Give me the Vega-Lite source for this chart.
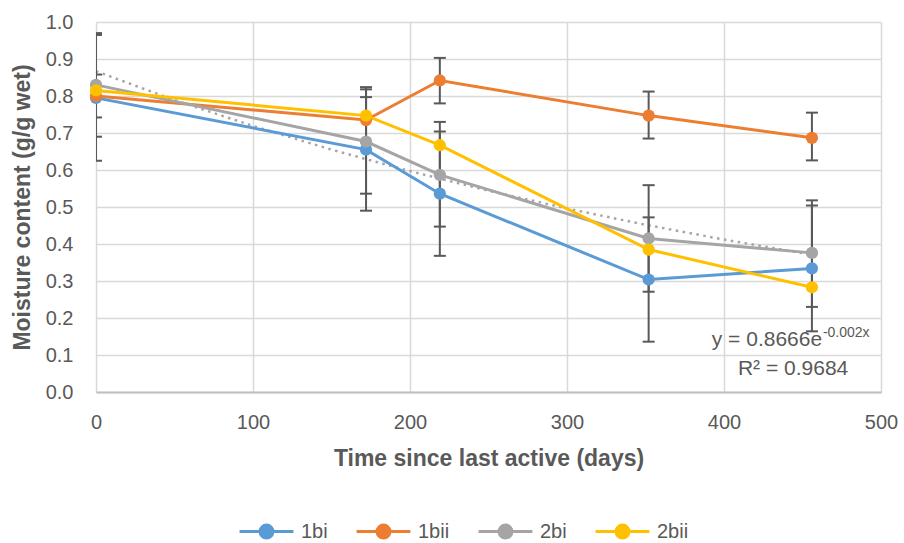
{
  "$schema": "https://vega.github.io/schema/vega-lite/v6.json",
  "width": 785,
  "height": 370,
  "autosize": {"type": "none"},
  "padding": {"left": 96, "top": 22, "right": 23, "bottom": 151},
  "background": "white",
  "config": {
    "font": "Liberation Sans, sans-serif",
    "view": {"stroke": null}
  },
  "datasets": {
    "series": [
      {"series": "1bi", "x": 0, "y": 0.795, "lo": 0.625, "hi": 0.965},
      {"series": "1bi", "x": 172, "y": 0.655, "lo": 0.49, "hi": 0.824},
      {"series": "1bi", "x": 219, "y": 0.536, "lo": 0.368, "hi": 0.704},
      {"series": "1bi", "x": 352, "y": 0.304, "lo": 0.136, "hi": 0.472},
      {"series": "1bi", "x": 456, "y": 0.334, "lo": 0.164, "hi": 0.504},
      {"series": "1bii", "x": 0, "y": 0.8, "lo": 0.742, "hi": 0.858},
      {"series": "1bii", "x": 172, "y": 0.735, "lo": 0.675, "hi": 0.797},
      {"series": "1bii", "x": 219, "y": 0.842, "lo": 0.78, "hi": 0.903},
      {"series": "1bii", "x": 352, "y": 0.747, "lo": 0.685, "hi": 0.812},
      {"series": "1bii", "x": 456, "y": 0.687, "lo": 0.626, "hi": 0.755},
      {"series": "2bi", "x": 0, "y": 0.83, "lo": 0.69, "hi": 0.97},
      {"series": "2bi", "x": 172, "y": 0.677, "lo": 0.536, "hi": 0.818},
      {"series": "2bi", "x": 219, "y": 0.587, "lo": 0.447, "hi": 0.73},
      {"series": "2bi", "x": 352, "y": 0.415, "lo": 0.271, "hi": 0.559},
      {"series": "2bi", "x": 456, "y": 0.376, "lo": 0.23, "hi": 0.518},
      {"series": "2bii", "x": 0, "y": 0.815, "lo": null, "hi": null},
      {"series": "2bii", "x": 172, "y": 0.747, "lo": null, "hi": null},
      {"series": "2bii", "x": 219, "y": 0.667, "lo": null, "hi": null},
      {"series": "2bii", "x": 352, "y": 0.385, "lo": null, "hi": null},
      {"series": "2bii", "x": 456, "y": 0.283, "lo": null, "hi": null}
    ],
    "trend": [
      {"x": 0, "y": 0.867},
      {"x": 50, "y": 0.789},
      {"x": 100, "y": 0.719},
      {"x": 150, "y": 0.655},
      {"x": 200, "y": 0.597},
      {"x": 250, "y": 0.544},
      {"x": 300, "y": 0.496},
      {"x": 350, "y": 0.452},
      {"x": 400, "y": 0.412},
      {"x": 456, "y": 0.371}
    ],
    "eq": [{"x": 462.5, "y": 0.124, "t": "y = 0.8666e"}],
    "sup": [{"x": 463, "y": 0.15, "t": "-0.002x"}],
    "r2": [{"x": 444, "y": 0.046, "t": "R² = 0.9684"}]
  },
  "encoding": {
    "x": {
      "field": "x", "type": "quantitative",
      "scale": {"domain": [0, 500], "nice": false},
      "axis": {
        "values": [0, 100, 200, 300, 400, 500],
        "title": "Time since last active (days)",
        "grid": true, "gridColor": "#d9d9d9", "gridWidth": 1.5,
        "domainColor": "#bfbfbf", "domainWidth": 2,
        "ticks": false, "labelPadding": 20, "labelOverlap": false, "labelFlush": false,
        "labelFontSize": 20, "labelColor": "#595959",
        "titleFontSize": 23, "titleColor": "#595959", "titleFontWeight": "bold",
        "titlePadding": 15
      }
    },
    "y": {
      "field": "y", "type": "quantitative",
      "scale": {"domain": [0, 1], "nice": false},
      "axis": {
        "values": [0, 0.1, 0.2, 0.3, 0.4, 0.5, 0.6, 0.7, 0.8, 0.9, 1],
        "tickCount": 11,
        "format": ".1f",
        "title": "Moisture content (g/g wet)",
        "grid": true, "gridColor": "#d9d9d9", "gridWidth": 1.5,
        "domain": false, "ticks": false, "labelPadding": 23, "labelOverlap": false, "labelFlush": false,
        "labelFontSize": 20, "labelColor": "#595959",
        "titleFontSize": 23, "titleColor": "#595959", "titleFontWeight": "bold",
        "titlePadding": 11
      }
    }
  },
  "layer": [
    {
      "data": {"name": "trend"},
      "mark": {"type": "line", "color": "#a5a5a5", "strokeWidth": 2.5, "strokeDash": [2.5, 4.5]}
    },
    {
      "data": {"name": "series"},
      "transform": [{"filter": "isValid(datum.lo)"}],
      "mark": {"type": "rule", "color": "#595959", "strokeWidth": 2, "clip": true},
      "encoding": {
        "y": {"field": "lo", "type": "quantitative"},
        "y2": {"field": "hi"}
      }
    },
    {
      "data": {"name": "series"},
      "transform": [{"filter": "isValid(datum.lo)"}],
      "mark": {"type": "tick", "orient": "horizontal", "color": "#595959", "size": 12, "thickness": 2, "opacity": 1, "clip": true},
      "encoding": {
        "y": {"field": "lo", "type": "quantitative"}
      }
    },
    {
      "data": {"name": "series"},
      "transform": [{"filter": "isValid(datum.hi)"}],
      "mark": {"type": "tick", "orient": "horizontal", "color": "#595959", "size": 12, "thickness": 2, "opacity": 1, "clip": true},
      "encoding": {
        "y": {"field": "hi", "type": "quantitative"}
      }
    },
    {
      "data": {"name": "series"},
      "mark": {"type": "line", "strokeWidth": 3},
      "encoding": {
        "color": {
          "field": "series", "type": "nominal",
          "scale": {"domain": ["1bi", "1bii", "2bi", "2bii"], "range": ["#5b9bd5", "#ed7d31", "#a5a5a5", "#ffc000"]},
          "legend": {
            "title": null, "orient": "none", "direction": "horizontal",
            "legendX": 142, "legendY": 481,
            "symbolType": "M-1,0L1,0M0.24,0A0.24,0.24 0 1 1 -0.24,0A0.24,0.24 0 1 1 0.24,0Z",
            "symbolSize": 2900, "symbolStrokeWidth": 3,
            "labelFontSize": 20, "labelColor": "#595959", "labelOffset": 6,
            "columnPadding": 22,
            "encode": {"symbols": {"update": {
              "fill": {"scale": "color", "field": "value"},
              "stroke": {"scale": "color", "field": "value"},
              "strokeWidth": {"value": 3},
              "opacity": {"value": 1}
            }}}
          }
        },
        "order": {"field": "x"}
      }
    },
    {
      "data": {"name": "series"},
      "mark": {"type": "point", "filled": true, "shape": "circle", "size": 150, "opacity": 1},
      "encoding": {
        "color": {"field": "series", "type": "nominal"}
      }
    },
    {
      "data": {"name": "eq"},
      "mark": {"type": "text", "align": "right", "baseline": "alphabetic", "fontSize": 21, "color": "#595959"},
      "encoding": {"text": {"field": "t"}}
    },
    {
      "data": {"name": "sup"},
      "mark": {"type": "text", "align": "left", "baseline": "alphabetic", "fontSize": 14, "color": "#595959"},
      "encoding": {"text": {"field": "t"}}
    },
    {
      "data": {"name": "r2"},
      "mark": {"type": "text", "align": "center", "baseline": "alphabetic", "fontSize": 21, "color": "#595959"},
      "encoding": {"text": {"field": "t"}}
    }
  ]
}
